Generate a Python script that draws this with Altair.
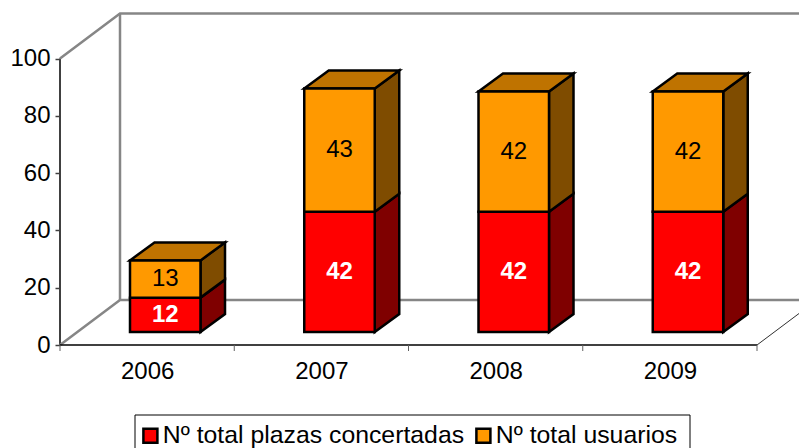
import altair as alt
import pandas as pd

years = ["2006", "2007", "2008", "2009"]
plazas = [12, 42, 42, 42]
usuarios = [13, 43, 42, 42]
series_names = ["Nº total plazas concertadas", "Nº total usuarios"]
series_colors = ["#FF0000", "#FF9900"]
side_colors = ["#7F0000", "#7F4C00"]
top_color = "#BF7300"
y_ticks = [0, 20, 40, 60, 80, 100]

FONT = "Liberation Sans"
PX_X = 174.25
PX_Y = 2.864
XMAX = 739 / PX_X
YMAX = 331 / PX_Y
WALL_DX = 60 / PX_X
WALL_DY = 45 / PX_Y
BAR_LEFT = 70 / PX_X
BAR_W = 70.5 / PX_X
BAR_DX = 24.5 / PX_X
BAR_DY = 18 / PX_Y
BASE = 13 / PX_Y

xs = alt.Scale(domain=[0, XMAX], nice=False, zero=False)
ys = alt.Scale(domain=[0, YMAX], nice=False, zero=False)


def X(f):
    return alt.X(f, type="quantitative", scale=xs, title=None, stack=None)


def Y(f):
    return alt.Y(f, type="quantitative", scale=ys, title=None, stack=None)


front, side, top, labels = [], [], [], []
for i, yr in enumerate(years):
    x0 = i + BAR_LEFT
    x1 = x0 + BAR_W
    start = BASE
    for s, vals in enumerate([plazas, usuarios]):
        end = start + vals[i] * 1.0
        front.append(dict(x0=x0, x1=x1, y0=start, y1=end, series=series_names[s]))
        side.append(dict(key=f"{yr}{s}", s=s, x=x1, y0=start, y1=end))
        side.append(dict(key=f"{yr}{s}", s=s, x=x1 + BAR_DX, y0=start + BAR_DY, y1=end + BAR_DY))
        labels.append(dict(x=(x0 + x1) / 2, y=(start + end) / 2, t=str(vals[i]), s=s))
        start = end
    top.append(dict(key=yr, y=start, x0=x0, x1=x1))
    top.append(dict(key=yr, y=start + BAR_DY, x0=x0 + BAR_DX, x1=x1 + BAR_DX))

front = pd.DataFrame(front)
side = pd.DataFrame(side)
top = pd.DataFrame(top)
labels = pd.DataFrame(labels)

walls = pd.DataFrame([
    dict(k="a", o=0, x=0, y=100),
    dict(k="a", o=1, x=WALL_DX, y=100 + WALL_DY),
    dict(k="a", o=2, x=XMAX, y=100 + WALL_DY),
    dict(k="b", o=0, x=WALL_DX, y=100 + WALL_DY),
    dict(k="b", o=1, x=WALL_DX, y=WALL_DY),
    dict(k="c", o=0, x=0, y=0),
    dict(k="c", o=1, x=WALL_DX, y=WALL_DY),
    dict(k="c", o=2, x=XMAX, y=WALL_DY),
])
right_edge = pd.DataFrame([
    dict(o=0, x=4, y=0),
    dict(o=1, x=XMAX, y=(XMAX - 4) / WALL_DX * WALL_DY),
])
axis_y = pd.DataFrame([dict(x=0, y0=0, y1=100)])
axis_x = pd.DataFrame([dict(x0=0, x1=4, y=0)])
x_ticks = pd.DataFrame(dict(x=[0, 1, 2, 3, 4]))

# base layer carries the real axes
base = alt.Chart(axis_y).mark_rule(color="#404040", strokeWidth=2).encode(
    x=alt.X(
        "x:Q", scale=xs, title=None,
        axis=alt.Axis(
            values=[0.5, 1.5, 2.5, 3.5],
            labelExpr="['2006','2007','2008','2009'][floor(datum.value)]",
            domain=False, ticks=False, grid=False, labelFont=FONT, labelFontSize=24,
            labelColor="black", labelPadding=26, labelBaseline="middle",
            labelFlush=False, labelOverlap=False,
        ),
    ),
    y=alt.Y(
        "y0:Q", scale=ys, title=None,
        axis=alt.Axis(
            values=y_ticks, domain=False, grid=False, tickSize=5, tickColor="#404040",
            tickWidth=1.5, labelFont=FONT, labelFontSize=24, labelColor="black",
            labelPadding=5, labelFlush=False, labelOverlap=False,
        ),
    ),
    y2="y1:Q",
)

legend_box = alt.Chart(axis_y).mark_rect(fill="white", stroke="black", strokeWidth=1).encode(
    x=alt.value(75), x2=alt.value(630), y=alt.value(401), y2=alt.value(445)
)
wall_lines = alt.Chart(walls).mark_line(color="#868686", strokeWidth=2.5).encode(
    x=X("x"), y=Y("y"), detail="k:N", order="o:Q"
)
edge_line = alt.Chart(right_edge).mark_line(color="#303030", strokeWidth=1).encode(
    x=X("x"), y=Y("y"), order="o:Q"
)
x_line = alt.Chart(axis_x).mark_rule(color="black", strokeWidth=1.5).encode(
    x=X("x0"), x2="x1:Q", y=Y("y")
)
tick_rules = alt.Chart(x_ticks).mark_rule(color="#606060", strokeWidth=1).encode(
    x=X("x"), y=alt.value(331), y2=alt.value(337)
)

layers = [base, legend_box, wall_lines, edge_line, x_line, tick_rules]

for s in range(2):
    layers.append(
        alt.Chart(side[side.s == s]).mark_area(
            color=side_colors[s], stroke="black", strokeWidth=2.5, opacity=1
        ).encode(x=X("x"), y=Y("y0"), y2="y1:Q", detail="key:N")
    )

layers.append(
    alt.Chart(top).mark_area(
        orient="horizontal", color=top_color, stroke="black", strokeWidth=2.5, opacity=1
    ).encode(y=Y("y"), x=X("x0"), x2="x1:Q", detail="key:N")
)

layers.append(
    alt.Chart(front).mark_rect(stroke="black", strokeWidth=2.5).encode(
        x=X("x0"), x2="x1:Q", y=Y("y0"), y2="y1:Q",
        fill=alt.Fill(
            "series:N",
            scale=alt.Scale(domain=series_names, range=series_colors),
            legend=alt.Legend(
                title=None, orient="none", legendX=78, legendY=409, direction="horizontal",
                columns=2, symbolType="square", symbolSize=196, symbolStrokeColor="black",
                symbolStrokeWidth=2.5, labelFont=FONT, labelFontSize=24.8,
                labelColor="black", labelLimit=400, padding=0, columnPadding=6,
                labelOffset=0, symbolOpacity=1,
            ),
        ),
    )
)

layers.append(
    alt.Chart(labels[labels.s == 0]).mark_text(
        font=FONT, fontSize=24, fontWeight="bold", color="white", baseline="middle"
    ).encode(x=X("x"), y=Y("y"), text="t:N")
)
layers.append(
    alt.Chart(labels[labels.s == 1]).mark_text(
        font=FONT, fontSize=24, color="black", baseline="middle"
    ).encode(x=X("x"), y=Y("y"), text="t:N")
)

chart = alt.layer(*layers).properties(
    width=739,
    height=331,
    padding={"left": 52, "top": 6, "right": 0, "bottom": 103},
    autosize=alt.AutoSizeParams(type="none"),
    background="white",
).configure_view(stroke=None)

chart.save("out.html", embed_options={"renderer": "svg", "actions": False})
